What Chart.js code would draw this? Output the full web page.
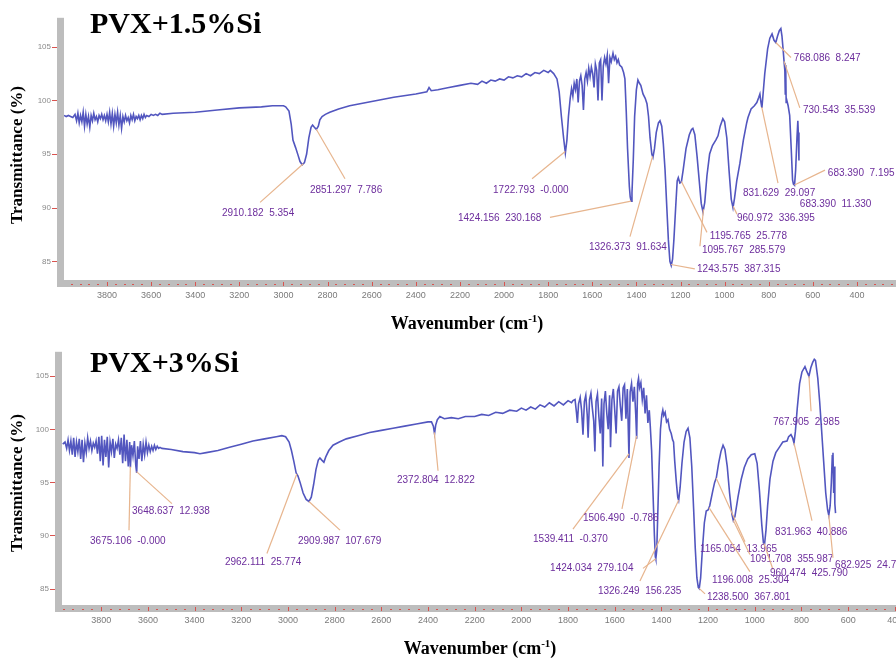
<!DOCTYPE html>
<html>
<head>
<meta charset="utf-8">
<script src="https://cdn.jsdelivr.net/npm/chart.js@4.4.1/dist/chart.umd.min.js"></script>
<style>
  html, body { margin: 0; padding: 0; background: #fff; }
  canvas { display: block; }
</style>
</head>
<body>
<canvas id="top" width="896" height="334"></canvas>
<canvas id="bottom" width="896" height="326"></canvas>
<script>
// FTIR spectra, [wavenumber cm-1, transmittance %]
const spectrum15 = [
  [3995,98.6],[3985,98.5],[3975,98.6],[3965,98.5],[3955,98.4],
  [3945,98.7],[3938,98.1],[3932,98.8],[3926,97.9],[3920,98.6],[3914,98.0],[3908,98.9],[3902,97.6],[3896,98.7],[3890,97.8],
  [3884,98.5],[3878,97.5],[3872,98.6],[3866,98.1],[3860,98.8],[3854,98.2],[3848,98.5],[3842,98.0],[3836,98.6],[3830,98.3],
  [3824,98.7],[3818,98.2],[3812,98.6],[3806,98.1],[3800,98.7],[3794,98.0],[3788,98.9],[3782,97.8],[3776,98.8],[3770,97.6],
  [3764,98.7],[3758,97.9],[3752,98.9],[3746,97.7],[3740,98.6],[3734,97.4],[3728,98.5],[3722,98.0],[3716,98.6],[3710,98.1],
  [3704,98.4],[3698,97.9],[3692,98.6],[3686,98.2],[3680,98.7],[3674,98.1],[3668,98.5],[3662,98.3],[3656,98.6],[3650,98.2],
  [3644,98.6],[3638,98.3],[3632,98.7],[3626,98.4],[3620,98.6],[3610,98.5],[3600,98.7],[3590,98.6],[3580,98.7],[3570,98.6],
  [3560,98.8],[3550,98.7],[3500,98.8],[3400,98.9],[3300,99.1],[3200,99.3],[3100,99.4],[3050,99.5],[3000,99.5],[2990,99.4],
  [2975,99.0],[2965,97.8],[2957,96.3],[2945,95.6],[2934,94.9],[2925,94.3],[2915,94.0],[2905,94.2],[2895,95.0],[2885,96.5],
  [2875,97.5],[2868,97.7],[2860,97.5],[2851,97.3],[2842,97.6],[2835,98.2],[2825,98.5],[2810,98.7],[2790,98.9],[2750,99.2],
  [2700,99.5],[2600,99.9],[2500,100.3],[2400,100.6],[2350,100.8],[2340,101.2],[2330,100.9],[2300,101.0],[2250,101.2],[2200,101.4],
  [2150,101.6],[2120,101.5],[2100,101.8],[2080,101.6],[2060,101.9],[2040,101.8],[2020,102.0],[2000,101.9],[1980,102.2],[1960,102.1],
  [1940,102.3],[1920,102.2],[1900,102.5],[1880,102.3],[1860,102.6],[1840,102.5],[1820,102.8],[1800,102.6],[1790,102.8],[1775,102.5],
  [1760,102.0],[1750,100.8],[1740,98.5],[1730,96.5],[1722,95.1],[1715,96.3],[1708,98.5],[1700,100.2],[1694,101.1],[1688,100.4],
  [1682,101.6],[1676,101.0],[1670,102.0],[1664,99.8],[1658,101.8],[1652,102.3],[1646,101.4],[1640,99.1],[1634,102.0],[1628,102.6],
  [1622,101.8],[1616,103.0],[1610,102.2],[1604,103.1],[1598,102.5],[1592,101.2],[1586,103.4],[1580,102.8],[1574,100.0],[1568,103.5],
  [1562,103.8],[1556,100.0],[1550,103.2],[1544,104.0],[1538,103.4],[1532,104.2],[1526,101.6],[1520,104.0],[1514,103.6],[1506,104.4],
  [1500,103.8],[1494,104.1],[1488,103.5],[1482,103.8],[1476,103.3],[1466,103.1],[1458,102.6],[1452,102.0],[1446,99.0],[1440,95.5],
  [1432,92.0],[1428,91.0],[1424,90.6],[1420,91.4],[1414,94.5],[1408,98.5],[1400,101.0],[1393,101.9],[1386,101.6],[1380,101.4],
  [1370,100.6],[1360,100.2],[1352,99.7],[1345,98.5],[1338,96.5],[1330,95.0],[1325,94.7],[1318,95.5],[1310,97.0],[1300,97.9],
  [1293,98.1],[1285,97.6],[1278,96.0],[1270,93.5],[1262,90.0],[1255,87.0],[1248,85.0],[1242,84.6],[1236,85.2],[1230,87.0],
  [1222,90.0],[1215,92.5],[1210,92.8],[1203,92.3],[1196,92.4],[1188,93.5],[1175,95.5],[1160,96.8],[1150,97.3],[1144,97.4],
  [1135,96.8],[1125,94.8],[1115,92.5],[1106,90.4],[1098,89.6],[1090,90.5],[1080,93.0],[1068,95.0],[1055,95.8],[1040,96.3],
  [1030,96.7],[1020,97.6],[1008,98.3],[1000,98.0],[990,96.5],[980,93.5],[970,90.8],[962,90.0],[955,90.9],[945,92.5],
  [931,94.1],[915,96.3],[900,97.9],[894,98.4],[880,99.2],[865,99.5],[854,99.8],[845,100.3],[840,100.6],[835,99.8],
  [831,99.3],[826,100.5],[818,102.5],[805,104.8],[795,105.8],[785,106.2],[781,106.2],[776,105.6],[768,105.4],[760,106.0],
  [752,106.5],[745,106.7],[740,106.0],[735,104.8],[730,103.5],[727,102.8],[725,100.6],[723,103.3],[721,99.8],[718,100.0],
  [712,99.5],[705,98.6],[698,95.5],[692,92.6],[688,92.2],[683,92.1],[678,93.5],[672,96.5],[668,98.1],[666,97.0],[663,94.4]
];

const spectrum3 = [
  [3965,98.6],[3955,98.8],[3948,98.2],[3942,99.0],[3936,98.0],[3930,98.9],[3924,97.6],[3918,99.2],[3912,97.4],[3906,98.8],
  [3900,97.9],[3894,99.1],[3888,97.2],[3882,99.0],[3876,96.9],[3870,98.7],[3864,97.8],[3858,99.2],[3852,98.2],[3846,98.9],
  [3840,98.0],[3834,98.7],[3828,98.3],[3822,98.9],[3816,97.7],[3810,99.3],[3804,97.0],[3798,99.4],[3792,96.6],[3786,99.0],
  [3780,97.4],[3774,99.3],[3768,96.4],[3762,98.8],[3756,97.9],[3750,99.1],[3744,97.3],[3738,98.6],[3732,98.2],[3726,99.0],
  [3720,97.6],[3714,99.2],[3708,96.8],[3702,99.5],[3696,97.0],[3690,99.0],[3684,96.5],[3678,98.8],[3675,96.4],[3670,98.5],
  [3664,97.5],[3658,98.9],[3652,96.6],[3648,95.9],[3644,98.4],[3638,97.2],[3632,98.9],[3626,97.0],[3620,98.6],[3614,97.6],
  [3608,98.8],[3602,97.8],[3596,98.5],[3590,97.9],[3584,98.4],[3578,98.0],[3572,98.5],[3566,98.1],[3560,98.4],[3554,98.2],
  [3548,98.3],[3540,98.2],[3500,98.1],[3450,97.9],[3400,97.8],[3377,97.7],[3350,97.8],[3300,98.0],[3250,98.3],[3200,98.6],
  [3150,98.9],[3100,99.1],[3050,99.3],[3026,99.4],[3010,99.3],[2995,98.8],[2985,98.0],[2975,97.0],[2965,95.9],[2957,95.6],
  [2948,95.0],[2935,94.0],[2922,93.4],[2910,93.2],[2900,93.6],[2890,94.8],[2880,96.2],[2870,97.1],[2863,97.3],[2855,97.1],
  [2846,96.9],[2838,97.4],[2825,98.0],[2807,98.5],[2780,98.8],[2750,99.1],[2700,99.4],[2650,99.7],[2600,99.9],[2550,100.1],
  [2500,100.3],[2450,100.5],[2400,100.7],[2385,100.7],[2377,100.3],[2372,99.6],[2367,100.4],[2360,100.9],[2349,101.2],[2330,101.0],
  [2300,101.1],[2270,101.0],[2240,101.2],[2200,101.2],[2170,101.4],[2140,101.3],[2110,101.6],[2080,101.5],[2050,101.8],[2020,101.7],
  [2000,102.0],[1980,101.8],[1960,102.1],[1940,101.9],[1920,102.3],[1900,102.1],[1880,102.5],[1860,102.2],[1840,102.6],[1820,102.3],
  [1800,102.7],[1785,102.5],[1779,102.7],
  [1770,102.8],[1764,101.6],[1760,100.6],[1755,102.4],[1748,103.0],[1742,101.8],[1736,99.5],[1730,102.6],[1724,103.2],[1718,101.4],
  [1714,99.2],[1708,102.8],[1702,103.4],[1696,102.0],[1690,100.8],[1685,97.9],[1680,102.6],[1674,103.3],[1668,101.2],[1662,99.6],
  [1656,102.9],[1651,96.5],[1646,102.4],[1640,103.6],[1634,101.5],[1628,100.0],[1622,103.2],[1618,98.3],[1612,102.8],[1606,103.8],
  [1600,101.8],[1594,99.6],[1588,103.6],[1582,104.0],[1576,102.2],[1570,100.8],[1564,103.9],[1558,104.2],[1552,101.0],[1546,103.8],
  [1539,97.3],[1534,103.5],[1528,104.3],[1522,102.6],[1516,104.0],[1510,101.4],[1506,99.1],[1502,104.3],[1498,104.8],[1494,103.9],
  [1488,104.4],[1482,102.8],[1476,103.9],[1470,101.5],[1464,103.2],[1458,100.6],[1452,101.8],[1448,100.4],[1442,98.0],[1436,94.0],
  [1430,90.0],[1426,88.0],[1424,87.8],[1420,88.6],[1415,92.5],[1410,96.5],[1404,100.0],[1398,101.4],[1394,101.8],[1390,101.3],
  [1384,101.6],[1378,100.7],[1372,100.9],[1365,100.0],[1358,99.6],[1352,99.0],[1348,98.8],[1343,97.0],[1336,95.0],[1330,93.6],
  [1326,93.3],[1320,94.5],[1312,96.8],[1303,98.8],[1294,99.8],[1286,100.1],[1278,99.2],[1270,96.5],[1262,92.5],[1255,88.8],
  [1248,86.0],[1242,85.1],[1238,85.0],[1232,86.0],[1225,88.5],[1216,91.2],[1208,92.3],[1200,92.4],[1193,92.8],[1180,94.2],
  [1172,95.0],[1165,95.4],[1155,96.8],[1145,97.9],[1136,98.5],[1128,98.1],[1118,96.5],[1108,94.0],[1098,92.0],[1092,91.4],
  [1085,91.8],[1072,93.6],[1058,95.3],[1045,96.4],[1030,97.2],[1015,97.6],[1000,97.7],[990,96.8],[980,94.2],[970,91.0],
  [963,89.3],[958,89.2],[952,90.5],[945,92.8],[935,95.3],[922,97.0],[910,97.8],[895,98.3],[880,98.8],[862,98.9],
  [855,99.3],[845,99.5],[838,99.2],[832,98.7],[826,99.8],[818,102.0],[808,104.3],[798,105.4],[785,105.9],[778,105.5],
  [768,105.0],[760,105.8],[752,106.3],[745,106.6],[740,106.5],[730,104.8],[722,102.6],[714,100.0],[705,97.0],[696,94.0],
  [688,92.4],[683,91.9],[677,92.8],[672,95.0],[668,97.5],[665,97.8],[662,94.0],[660,96.5],[657,93.0],[654,92.1]
];

// peak picks: wavenumber and the integrated value printed beside it
const peaks15 = [2910.182, 2851.297, 1722.793, 1424.156, 1326.373, 1243.575, 1195.765, 1095.767, 960.972, 831.629, 683.390, 683.390, 768.086, 730.543];
const areas15 = ['5.354', '7.786', '-0.000', '230.168', '91.634', '387.315', '25.778', '285.579', '336.395', '29.097', '11.330', '7.195', '8.247', '35.539'];
const peaks3 = [3675.106, 3648.637, 2962.111, 2909.987, 2372.804, 1539.411, 1506.490, 1424.034, 1326.249, 1238.500, 1165.054, 1196.008, 1091.708, 960.474, 831.963, 767.905, 682.925];
const areas3 = ['-0.000', '12.938', '25.774', '107.679', '12.822', '-0.370', '-0.786', '279.104', '156.235', '367.801', '13.965', '25.304', '355.987', '425.790', '40.886', '2.985', '24.7'];

const xTicks = [3800, 3600, 3400, 3200, 3000, 2800, 2600, 2400, 2200, 2000, 1800, 1600, 1400, 1200, 1000, 800, 600, 400];
const yTicks = [85, 90, 95, 100, 105];

// where each label sits, in axis units: [text wn, text %T, leader end wn, leader end %T]
const spots15 = [
  [3279, 89.5, 3106, 90.5], [2880, 91.6, 2721, 92.7], [2050, 91.6, 1873, 92.7], [2209, 89.0, 1792, 89.1],
  [1615, 86.3, 1429, 87.3], [1125, 84.3, 1135, 84.3], [1067, 87.3, 1080, 87.7], [1103, 86.0, 1112, 86.4],
  [944, 89.0, 944, 89.4], [917, 91.3, 758, 92.3], [659, 90.3, null, null], [532, 93.2, 545, 93.5],
  [686, 103.9, 699, 104.0], [645, 99.1, 659, 99.3]
];
const spots3 = [
  [3848, 89.5, 3681, 90.5], [3668, 92.3, 3497, 93.0], [3270, 87.5, 3090, 88.3], [2957, 89.5, 2777, 90.5],
  [2533, 95.2, 2357, 96.1], [1950, 89.6, 1779, 90.6], [1736, 91.6, 1569, 92.5], [1877, 86.9, 1479, 86.9],
  [1672, 84.7, 1492, 85.7], [1205, 84.2, 1213, 84.5], [1235, 88.7, 1042, 89.4], [1183, 85.8, 1021, 86.6],
  [1021, 87.8, 1021, 88.2], [935, 86.4, 922, 86.8], [913, 90.3, 755, 91.4], [922, 100.7, 759, 101.7],
  [656, 87.2, 665, 87.9]
];

const serif = '"Liberation Serif", "Times New Roman", serif';
const sans = '"Liberation Sans", Arial, sans-serif';

// transmittance on the trace at a given wavenumber (trace runs high to low)
function traceAt(points, wn) {
  for (let i = 0; i < points.length - 1; i++) {
    const [x0, y0] = points[i], [x1, y1] = points[i + 1];
    if (wn <= x0 && wn >= x1) return y0 + (y1 - y0) * (x0 - wn) / (x0 - x1);
  }
  return points[points.length - 1][1];
}

const ftirFrame = {
  id: 'ftirFrame',
  beforeDatasetsDraw(chart) {
    const {ctx, chartArea: a, scales: {x, y}} = chart;
    ctx.save();
    ctx.fillStyle = '#bdbdbd';
    ctx.fillRect(a.left - 7, a.top, 7, a.bottom - a.top + 7);
    ctx.fillRect(a.left - 7, a.bottom, a.right - a.left + 7, 7);
    ctx.fillStyle = '#d9534f';
    for (let w = 4000; w >= 200; w -= 40) {
      const px = Math.round(x.getPixelForValue(w));
      if (px < a.left || px > a.right) continue;
      if (w % 200 === 0) ctx.fillRect(px, a.bottom + 2, 1, 4);
      else ctx.fillRect(px - 1, a.bottom + 4, 2, 1);
    }
    yTicks.forEach(v => {
      const py = Math.round(y.getPixelForValue(v));
      ctx.fillRect(a.left - 12, py, 5, 1);
    });
    ctx.restore();
  },
  afterDatasetsDraw(chart, args, opts) {
    const {ctx, scales: {x, y}} = chart;
    const pts = opts.points;
    ctx.save();
    ctx.font = '10px ' + sans;
    ctx.textBaseline = 'middle';
    ctx.lineWidth = 1.2;
    opts.peaks.forEach((wn, i) => {
      const [tx, ty, ex, ey] = opts.spots[i];
      if (ex !== null) {
        ctx.strokeStyle = '#e7b58e';
        ctx.beginPath();
        ctx.moveTo(x.getPixelForValue(wn), y.getPixelForValue(traceAt(pts, wn)));
        ctx.lineTo(x.getPixelForValue(ex), y.getPixelForValue(ey));
        ctx.stroke();
      }
      ctx.fillStyle = '#6c2d9c';
      ctx.fillText(wn.toFixed(3) + '  ' + opts.areas[i], x.getPixelForValue(tx), y.getPixelForValue(ty));
    });
    ctx.restore();
  },
  afterDraw(chart, args, opts) {
    const {ctx} = chart;
    ctx.save();
    ctx.fillStyle = '#000';
    // panel name
    ctx.font = 'bold 30px ' + serif;
    ctx.textBaseline = 'alphabetic';
    ctx.fillText(opts.title, 90, opts.titleBase);
    // y-axis title
    ctx.translate(18, opts.yTitleMid);
    ctx.rotate(-Math.PI / 2);
    ctx.font = 'bold 17px ' + serif;
    ctx.textAlign = 'center';
    ctx.textBaseline = 'middle';
    ctx.fillText('Transmittance (%)', 0, 0);
    ctx.restore();
    // x-axis title with superscript
    ctx.save();
    ctx.fillStyle = '#000';
    ctx.textBaseline = 'alphabetic';
    const main = 'Wavenumber (cm', sup = '-1', tail = ')';
    ctx.font = 'bold 18px ' + serif;
    const w1 = ctx.measureText(main).width, w3 = ctx.measureText(tail).width;
    ctx.font = 'bold 11px ' + serif;
    const w2 = ctx.measureText(sup).width;
    let cx = opts.xTitleMid - (w1 + w2 + w3) / 2;
    const base = opts.xTitleBase;
    ctx.font = 'bold 18px ' + serif;
    ctx.fillText(main, cx, base);
    cx += w1;
    ctx.font = 'bold 11px ' + serif;
    ctx.fillText(sup, cx, base - 7);
    cx += w2;
    ctx.font = 'bold 18px ' + serif;
    ctx.fillText(tail, cx, base);
    ctx.restore();
  }
};

function drawSpectrum(id, points, frame, range) {
  return new Chart(document.getElementById(id), {
    type: 'line',
    data: {
      datasets: [{
        data: points.map(p => ({x: p[0], y: p[1]})),
        borderColor: '#5256bf',
        borderWidth: 1.6,
        pointRadius: 0,
        tension: 0,
        fill: false
      }]
    },
    options: {
      responsive: false,
      animation: false,
      layout: {padding: {left: 0, right: 0, top: range.padTop, bottom: 0}},
      plugins: {legend: {display: false}, tooltip: {enabled: false}, ftirFrame: frame},
      scales: {
        x: {
          type: 'linear', reverse: true, min: range.xMin, max: range.xMax,
          grid: {display: false, drawTicks: false}, border: {display: false},
          afterBuildTicks: s => { s.ticks = xTicks.map(v => ({value: v})); },
          afterFit: s => { s.height = range.xAxisH; s.paddingLeft = 0; s.paddingRight = 0; },
          ticks: {autoSkip: false, maxRotation: 0, padding: 10, color: '#7a7a7a', font: {family: sans, size: 9},
                  callback: v => String(v)}
        },
        y: {
          min: range.yMin, max: range.yMax,
          grid: {display: false, drawTicks: false}, border: {display: false},
          afterBuildTicks: s => { s.ticks = yTicks.map(v => ({value: v})); },
          afterFit: s => { s.width = range.yAxisW; },
          ticks: {padding: 13, color: '#8a8a8a', font: {family: sans, size: 8}, callback: v => String(v)}
        }
      }
    },
    plugins: [ftirFrame]
  });
}

drawSpectrum('top', spectrum15,
  {points: spectrum15, peaks: peaks15, areas: areas15, spots: spots15, title: 'PVX+1.5%Si',
   titleBase: 33, yTitleMid: 155, xTitleMid: 467, xTitleBase: 329},
  {xMin: 223, xMax: 3995, yMin: 83.26, yMax: 107.7, padTop: 17, xAxisH: 54, yAxisW: 64});

drawSpectrum('bottom', spectrum3,
  {points: spectrum3, peaks: peaks3, areas: areas3, spots: spots3, title: 'PVX+3%Si',
   titleBase: 38, yTitleMid: 149, xTitleMid: 480, xTitleBase: 320},
  {xMin: 395, xMax: 3968, yMin: 83.45, yMax: 107.3, padTop: 9, xAxisH: 55, yAxisW: 62});
</script>
</body>
</html>
